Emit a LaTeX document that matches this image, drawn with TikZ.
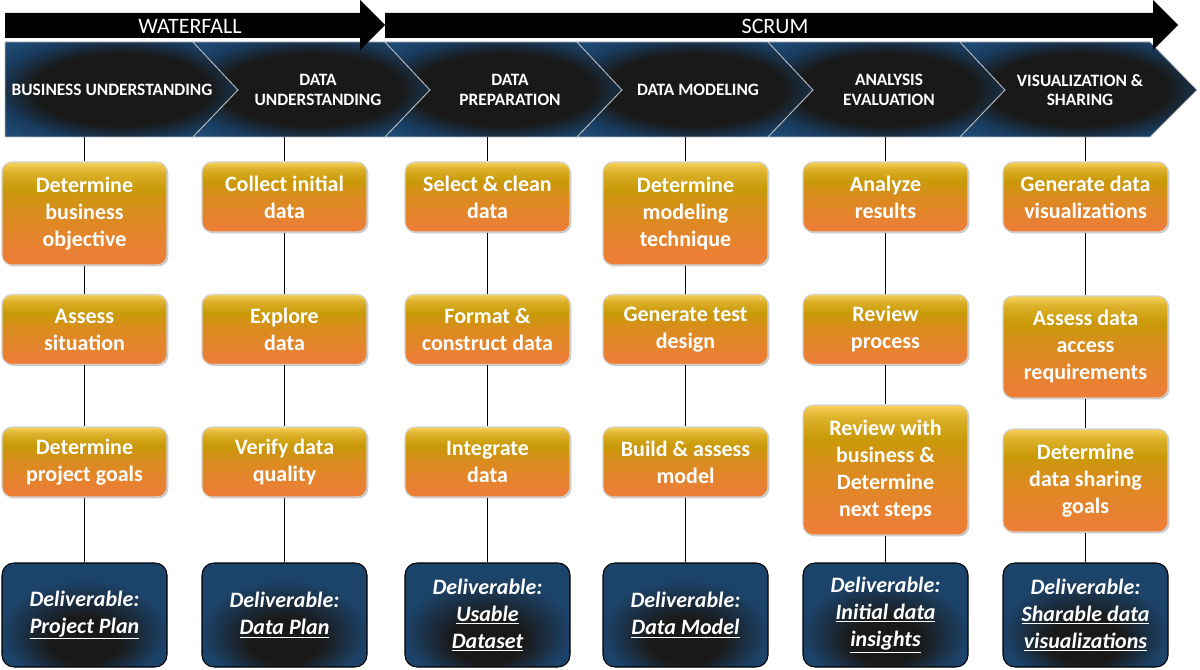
\documentclass[tikz,border=0pt]{standalone}
\usepackage{fontspec}
\setmainfont{Carlito}
\usetikzlibrary{shadows}

\definecolor{navy}{HTML}{1F4A75}
\definecolor{ortop}{HTML}{F7D25C}
\definecolor{ormid}{HTML}{C99A08}
\definecolor{orbot}{HTML}{EC7E36}

\pgfdeclareverticalshading{taskfill}{100bp}{color(0bp)=(orbot); color(29bp)=(orbot); color(50bp)=(ormid!50!orbot); color(62bp)=(ormid); color(70bp)=(ormid!60!ortop); color(75bp)=(ortop); color(100bp)=(ortop)}
\pgfdeclareradialshading{chevglow}{\pgfpoint{0bp}{0bp}}{color(0bp)=(black!90); color(19bp)=(black!90); color(27bp)=(navy!80!black); color(33bp)=(navy); color(50bp)=(navy)}
\pgfdeclareradialshading{delglow}{\pgfpoint{0bp}{-16bp}}{color(0bp)=(black!90); color(11bp)=(black!90); color(25bp)=(navy!90!black); color(50bp)=(navy!90!black)}

\begin{document}
\begin{tikzpicture}[x=0.75pt,y=0.75pt,yscale=-1,xscale=1,
    task/.style={shade, shading=taskfill, draw=gray!35, line width=0.8pt, rounded corners=7.5pt,
        minimum width=123.75pt, minimum height=52.5pt, align=center, text=white,
        drop shadow={opacity=0.45, shadow xshift=1pt, shadow yshift=-1pt},
        font=\bfseries\fontsize{16.5}{20.25}\selectfont},
    deliv/.style={shade, shading=delglow, draw=black, line width=0.8pt, rounded corners=9pt,
        minimum width=123.75pt, minimum height=78pt, align=center, text=white,
        font=\bfseries\itshape\fontsize{16.5}{20.25}\selectfont},
    phase/.style={align=center, text=white, font=\bfseries\fontsize{13}{14.5}\selectfont},
    banner/.style={text=white, font=\fontsize{16.5}{18}\selectfont},
    link/.style={line width=1.2pt}]
        \useasboundingbox (0,0) rectangle (1200,670);

        % phase chevrons
        \shade [shading=chevglow, draw=gray!55, line width=0.6pt] (5,42) -- (193,42) -- (238,90) -- (193,137) -- (5,137) -- cycle ;
        \foreach \a/\b in {193/385,385/577,577/768,768/960}{
            \shade [shading=chevglow, draw=gray!55, line width=0.6pt] (\a,42) -- (\b,42) -- (\b+45,90) -- (\b,137) -- (\a,137) -- (\a+45,90) -- cycle ;
        }
        \shade [shading=chevglow, draw=gray!55, line width=0.6pt] (960,42) -- (1150,42) -- (1197,90) -- (1150,137) -- (960,137) -- (1005,90) -- cycle ;

        % waterfall / scrum arrows
        \fill [black] (5,13) -- (360,13) -- (360,0) -- (385,25) -- (360,50) -- (360,38) -- (5,38) -- cycle ;
        \fill [black] (385,13) -- (1153,13) -- (1153,0) -- (1178,25) -- (1153,50) -- (1153,38) -- (385,38) -- cycle ;
        \node (wf) [banner] at (190,26) {WATERFALL};
        \node (sc) [banner] at (775,26) {SCRUM};

        \node (p1) [phase] at (112,90) {BUSINESS UNDERSTANDING};
        \node (p2) [phase] at (318,90) {DATA\\UNDERSTANDING};
        \node (p3) [phase] at (510,90) {DATA\\PREPARATION};
        \node (p4) [phase] at (698,90) {DATA MODELING};
        \node (p5) [phase] at (889,90) {ANALYSIS\\EVALUATION};
        \node (p6) [phase] at (1080,90) {VISUALIZATION \&\\SHARING};

        \foreach \c/\x in {1/84.5,2/284.5,3/487.5,4/685.5,5/885.5,6/1085.5}{ \coordinate (h\c) at (\x,137); }

        % tasks
        \node (t1-1) [task, minimum height=77.25pt] at (84.5,213.5) {Determine\\business\\objective};
        \node (t1-2) [task] at (84.5,329.5) {Assess\\situation};
        \node (t1-3) [task] at (84.5,462) {Determine\\project goals};

        \node (t2-1) [task] at (284.5,197) {Collect initial\\data};
        \node (t2-2) [task] at (284.5,329.5) {Explore\\data};
        \node (t2-3) [task] at (284.5,462) {Verify data\\quality};

        \node (t3-1) [task] at (487.5,197) {Select \& clean\\data};
        \node (t3-2) [task] at (487.5,329.5) {Format \&\\construct data};
        \node (t3-3) [task] at (487.5,462) {Integrate\\data};

        \node (t4-1) [task, minimum height=77.25pt] at (685.5,213.5) {Determine\\modeling\\technique};
        \node (t4-2) [task] at (685.5,329.5) {Generate test\\design};
        \node (t4-3) [task] at (685.5,462) {Build \& assess\\model};

        \node (t5-1) [task] at (885.5,197) {Analyze\\results};
        \node (t5-2) [task] at (885.5,329.5) {Review\\process};
        \node (t5-3) [task, minimum height=97.5pt] at (885.5,470) {Review with\\business \&\\Determine\\next steps};

        \node (t6-1) [task] at (1085.5,197) {Generate data\\visualizations};
        \node (t6-2) [task, minimum height=76.5pt] at (1085.5,347) {Assess data\\access\\requirements};
        \node (t6-3) [task, minimum height=77.25pt] at (1085.5,480.5) {Determine\\data sharing\\goals};

        % deliverables
        \node (d1) [deliv] at (84.5,615) {Deliverable:\\\underline{Project Plan}};
        \node (d2) [deliv] at (284.5,615) {Deliverable:\\\underline{Data Plan}};
        \node (d3) [deliv] at (487.5,615) {Deliverable:\\\underline{Usable}\\\underline{Dataset}};
        \node (d4) [deliv] at (685.5,615) {Deliverable:\\\underline{Data Model}};
        \node (d5) [deliv] at (885.5,615) {Deliverable:\\\underline{Initial data}\\\underline{insights}};
        \node (d6) [deliv] at (1085.5,615) {Deliverable:\\\underline{Sharable data}\\\underline{visualizations}};

        \foreach \c in {1,...,6}{
            \draw [link] (h\c) -- (t\c-1.north) ;
            \draw [link] (t\c-1.south) -- (t\c-2.north) ;
            \draw [link] (t\c-2.south) -- (t\c-3.north) ;
            \draw [link] (t\c-3.south) -- (d\c.north) ;
        }
\end{tikzpicture}
\end{document}
